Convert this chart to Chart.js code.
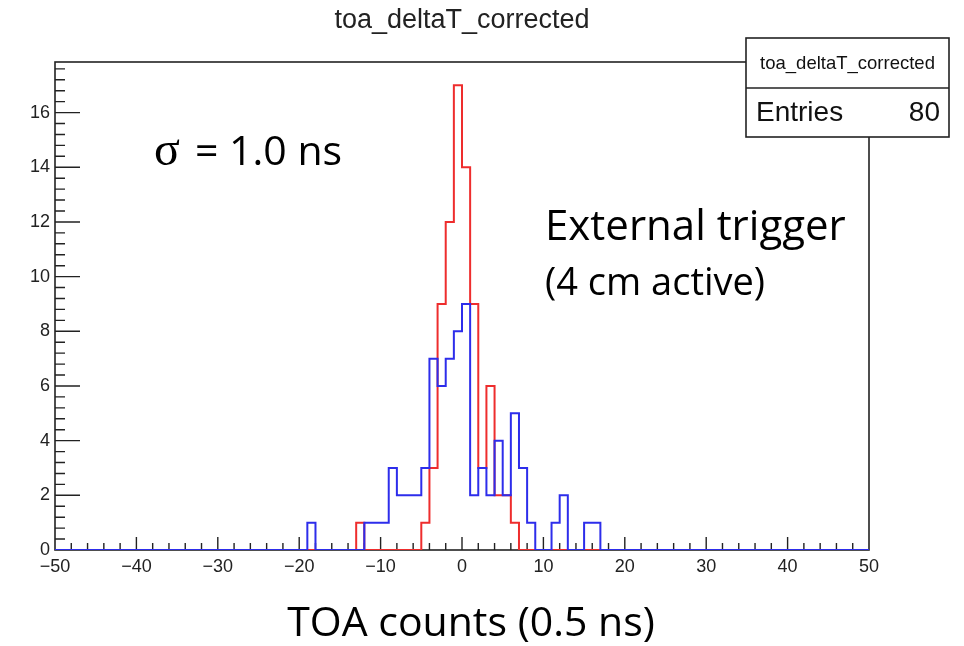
<!DOCTYPE html>
<html>
<head>
<meta charset="utf-8">
<title>toa_deltaT_corrected</title>
<script src="https://cdn.jsdelivr.net/npm/chart.js@4.4.1/dist/chart.umd.min.js"></script>
<style>
  html, body { margin: 0; padding: 0; background: #fff; }
</style>
</head>
<body>
<canvas id="histChart" width="964" height="646"></canvas>
<script>
// histogram: 1-unit bins from -50 to 50, only non-empty bins listed (low edge -> count)
const histName = 'toa_deltaT_corrected';
const entries = 80;
const redBins   = [-13, -5, -4, -3, -2, -1, 0, 1, 2, 3, 4, 5, 6];
const redCounts = [1, 1, 3, 9, 12, 17, 14, 9, 3, 6, 2, 2, 1];
const blueBins   = [-19, -12, -11, -10, -9, -8, -7, -6, -5, -4, -3, -2, -1, 0, 1, 2, 3, 4, 5, 6, 7, 8, 11, 12, 15, 16];
const blueCounts = [1, 1, 1, 1, 3, 2, 2, 2, 3, 7, 6, 7, 8, 9, 2, 3, 2, 4, 2, 5, 3, 1, 1, 2, 1, 1];
const xTicks = [-50, -40, -30, -20, -10, 0, 10, 20, 30, 40, 50];
const yTicks = [0, 2, 4, 6, 8, 10, 12, 14, 16];
const X_MIN = -50, X_MAX = 50, Y_MAX = 17.85;

// every bin edge gets a point, stepped line draws the outline like ROOT
function toSteps(bins, counts) {
  const pts = [];
  for (let x = X_MIN; x <= X_MAX; x++) {
    const i = bins.indexOf(x);
    pts.push({ x: x, y: i >= 0 ? counts[i] : 0 });
  }
  return pts;
}

const tickFont = { family: 'Liberation Sans', size: 18 };

// frame + inside ticks (ROOT style)
const rootFrame = {
  id: 'rootFrame',
  beforeDatasetsDraw(chart) {
    const { ctx, chartArea: a, scales: { x, y } } = chart;
    ctx.save();
    ctx.strokeStyle = '#222';
    ctx.lineWidth = 1.6;
    ctx.strokeRect(a.left, a.top, a.right - a.left, a.bottom - a.top);
    ctx.lineWidth = 1.4;
    ctx.beginPath();
    for (let v = X_MIN + 2; v < X_MAX; v += 2) {
      const px = x.getPixelForValue(v);
      const len = v % 10 === 0 ? 13 : 7;
      ctx.moveTo(px, a.bottom);
      ctx.lineTo(px, a.bottom - len);
    }
    for (let k = 1; k * 0.4 < Y_MAX; k++) {
      const v = k * 0.4;
      const py = y.getPixelForValue(v);
      const len = k % 5 === 0 ? 25 : 10;
      ctx.moveTo(a.left, py);
      ctx.lineTo(a.left + len, py);
    }
    ctx.stroke();
    ctx.restore();
  },
  afterDatasetsDraw(chart) {
    // stats box
    const ctx = chart.ctx;
    const L = 746, T = 38, R = 949, M = 88, B = 137;
    ctx.save();
    ctx.fillStyle = '#fff';
    ctx.fillRect(L, T, R - L, B - T);
    ctx.strokeStyle = '#222';
    ctx.lineWidth = 1.6;
    ctx.strokeRect(L, T, R - L, B - T);
    ctx.beginPath();
    ctx.moveTo(L, M);
    ctx.lineTo(R, M);
    ctx.stroke();
    ctx.fillStyle = '#111';
    ctx.textBaseline = 'middle';
    ctx.textAlign = 'center';
    ctx.font = '18.5px "Liberation Sans"';
    ctx.fillText(histName, (L + R) / 2, (T + M) / 2 + 1);
    ctx.font = '28px "Liberation Sans"';
    ctx.textAlign = 'left';
    ctx.fillText('Entries', 756, (M + B) / 2 + 1);
    ctx.textAlign = 'right';
    ctx.fillText(String(entries), 940, (M + B) / 2 + 1);
    ctx.restore();
  },
  afterDraw(chart) {
    const ctx = chart.ctx;
    ctx.save();
    ctx.fillStyle = '#000';
    ctx.textBaseline = 'alphabetic';
    ctx.textAlign = 'left';
    ctx.font = '48px "Liberation Serif"';
    ctx.fillText('σ', 154, 165);
    ctx.font = '41px "Open Sans"';
    ctx.fillText('= 1.0 ns', 195, 165);
    ctx.font = '42px "Open Sans"';
    ctx.fillText('External trigger', 545, 240);
    ctx.font = '38px "Open Sans"';
    ctx.fillText('(4 cm active)', 545, 295);
    // x axis label
    ctx.font = '41px "Open Sans"';
    ctx.textAlign = 'center';
    ctx.fillText('TOA counts (0.5 ns)', 471, 636);
    ctx.restore();
  }
};

const ctx = document.getElementById('histChart').getContext('2d');
const histChart = new Chart(ctx, {
  type: 'line',
  data: {
    datasets: [
      {
        label: 'external trigger',
        data: toSteps(blueBins, blueCounts),
        borderColor: 'rgb(45, 45, 235)',
        borderWidth: 2,
        stepped: 'before',
        pointRadius: 0,
        fill: false
      },
      {
        label: 'corrected',
        data: toSteps(redBins, redCounts),
        borderColor: 'rgb(238, 45, 45)',
        borderWidth: 2,
        stepped: 'before',
        pointRadius: 0,
        fill: false
      }
    ]
  },
  options: {
    responsive: false,
    animation: false,
    layout: { padding: { left: 0, right: 95, top: 0, bottom: 0 } },
    plugins: {
      legend: { display: false },
      tooltip: { enabled: false },
      title: {
        display: true,
        fullSize: false,
        text: histName,
        color: '#222',
        font: { family: 'Liberation Sans', size: 27, weight: 'normal' },
        padding: { top: 4, bottom: 25.6 }
      }
    },
    scales: {
      x: {
        type: 'linear',
        min: X_MIN,
        max: X_MAX,
        afterBuildTicks: s => { s.ticks = xTicks.map(v => ({ value: v })); },
        afterFit: s => { s.height = 96; },
        grid: { display: false, drawTicks: false },
        border: { display: false },
        ticks: {
          font: tickFont,
          color: '#222',
          padding: 6,
          maxRotation: 0,
          autoSkip: false,
          callback: v => String(v).replace('-', '\u2212')
        }
      },
      y: {
        min: 0,
        max: Y_MAX,
        afterBuildTicks: s => { s.ticks = yTicks.map(v => ({ value: v })); },
        afterFit: s => { s.width = 55; },
        grid: { display: false, drawTicks: false },
        border: { display: false },
        ticks: { font: tickFont, color: '#222', padding: 5 }
      }
    }
  },
  plugins: [rootFrame]
});
</script>
</body>
</html>
